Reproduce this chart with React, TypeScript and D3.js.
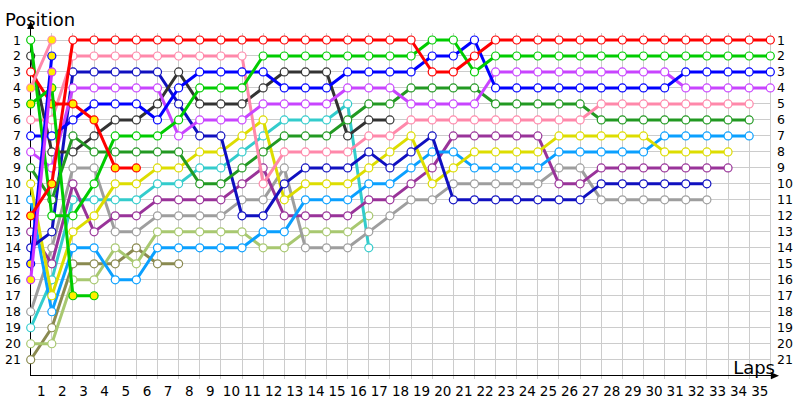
import React from 'react';
import * as d3 from 'd3';

// ---- data: position of each driver per lap (index = lap, 0 = grid) ----
const LAPS = d3.range(0, 36);
const POSITIONS = d3.range(1, 22);
const LAP_LABELS = d3.range(1, 36);

const redA = [12, 10, 1, 1, 1, 1, 1, 1, 1, 1, 1, 1, 1, 1, 1, 1, 1, 1, 1, 3, 3, 2, 1, 1, 1, 1, 1, 1, 1, 1, 1, 1, 1, 1, 1, 1];
const greenC = [1, 12, 12, 10, 7, 7, 7, 6, 4, 4, 4, 2, 2, 2, 2, 2, 2, 2, 2, 1, 1, 3, 2, 2, 2, 2, 2, 2, 2, 2, 2, 2, 2, 2, 2, 2];
const blue = [7, 7, 6, 5, 5, 5, 6, 4, 3, 3, 3, 3, 4, 4, 4, 3, 3, 3, 3, 2, 2, 1, 4, 4, 4, 4, 4, 4, 4, 4, 4, 3, 3, 3, 3, 3];
const lightPurple = [8, 9, 4, 4, 4, 4, 4, 7, 6, 6, 6, 5, 5, 5, 5, 4, 4, 4, 5, 5, 5, 5, 3, 3, 3, 3, 3, 3, 3, 3, 3, 4, 4, 4, 4, 4];
const pink = [6, 6, 2, 2, 2, 2, 2, 2, 2, 2, 2, 10, 8, 8, 8, 8, 7, 7, 6, 6, 6, 6, 6, 6, 6, 6, 6, 5, 5, 5, 5, 5, 5, 5, 5];
const darkGreen = [9, 11, 7, 8, 8, 8, 8, 8, 10, 10, 9, 8, 7, 7, 7, 6, 5, 5, 4, 4, 4, 4, 5, 5, 5, 5, 5, 6, 6, 6, 6, 6, 6, 6, 6];
const darkGray = [2, 8, 8, 7, 6, 6, 5, 3, 5, 5, 5, 4, 3, 3, 3, 7, 6, 6];
const navy = [14, 13, 3, 3, 3, 3, 3, 5, 7, 7, 12, 12, 10, 9, 9, 9, 8, 9, 8, 7, 11, 11, 11, 11, 11, 11, 11, 10, 10, 10, 10, 10, 10];
const yellow = [10, 17, 13, 12, 10, 10, 9, 9, 8, 8, 7, 6, 11, 10, 10, 10, 9, 8, 7, 10, 9, 8, 8, 8, 8, 7, 7, 7, 7, 7, 8, 8, 8, 8];
const lightBlue = [11, 18, 14, 14, 16, 16, 14, 14, 14, 14, 14, 13, 13, 11, 11, 11, 10, 10, 9, 8, 8, 9, 9, 9, 9, 8, 8, 8, 8, 8, 7, 7, 7, 7, 7];
const darkPurple = [13, 15, 10, 13, 12, 12, 11, 11, 11, 11, 10, 9, 12, 12, 12, 12, 11, 11, 10, 9, 7, 7, 7, 7, 7, 10, 10, 9, 9, 9, 9, 9, 9, 9];
const gray = [18, 14, 9, 9, 13, 13, 12, 12, 12, 12, 11, 11, 9, 14, 14, 14, 13, 12, 11, 11, 10, 10, 10, 10, 10, 9, 9, 11, 11, 11, 11, 11, 11];
const cyan = [19, 16, 11, 11, 11, 11, 10, 10, 9, 9, 8, 7, 6, 6, 6, 5, 14];
const lightGreen = [20, 20, 16, 16, 14, 15, 13, 13, 13, 13, 13, 14, 14, 13, 13, 13, 12];
const olive = [21, 19, 15, 15, 15, 14, 15, 15];
const redB = [3, 5, 5, 6, 9, 9];
const greenB = [5, 4, 17, 17];
const pinkY = [4, 1];
const blueY = [15, 2];
const magentaY = [16, 3];

// laps drawn with a yellow-filled marker
const redAYellow = [0, 1];
const redBYellow = [1, 2, 3, 4, 5];
const greenBYellow = [0, 1, 2, 3];
const pinkYYellow = [0, 1];
const blueYYellow = [0, 1];
const magentaYYellow = [0, 1];

const DRIVERS = [
  { key: 'olive', pos: olive, yellow: [] as number[] },
  { key: 'lightGreen', pos: lightGreen, yellow: [] as number[] },
  { key: 'cyan', pos: cyan, yellow: [] as number[] },
  { key: 'gray', pos: gray, yellow: [] as number[] },
  { key: 'darkPurple', pos: darkPurple, yellow: [] as number[] },
  { key: 'lightBlue', pos: lightBlue, yellow: [] as number[] },
  { key: 'yellow', pos: yellow, yellow: [] as number[] },
  { key: 'navy', pos: navy, yellow: [] as number[] },
  { key: 'darkGray', pos: darkGray, yellow: [] as number[] },
  { key: 'darkGreen', pos: darkGreen, yellow: [] as number[] },
  { key: 'pink', pos: pink, yellow: [] as number[] },
  { key: 'lightPurple', pos: lightPurple, yellow: [] as number[] },
  { key: 'blue', pos: blue, yellow: [] as number[] },
  { key: 'greenC', pos: greenC, yellow: [] as number[] },
  { key: 'redB', pos: redB, yellow: redBYellow },
  { key: 'greenB', pos: greenB, yellow: greenBYellow },
  { key: 'blueY', pos: blueY, yellow: blueYYellow },
  { key: 'magentaY', pos: magentaY, yellow: magentaYYellow },
  { key: 'pinkY', pos: pinkY, yellow: pinkYYellow },
  { key: 'redA', pos: redA, yellow: redAYellow },
];

const COLORS: Record<string, string> = {
  olive: '#8a8a50',
  lightGreen: '#a8c870',
  cyan: '#33cccc',
  gray: '#9e9e9e',
  darkPurple: '#993399',
  lightBlue: '#0aa0ff',
  yellow: '#dddd00',
  navy: '#1010c0',
  darkGray: '#333333',
  darkGreen: '#229922',
  pink: '#ff88aa',
  lightPurple: '#c844ff',
  blue: '#0000ff',
  greenC: '#00cc00',
  redB: '#ff0000',
  greenB: '#00cc00',
  blueY: '#0000ff',
  magentaY: '#cc33ff',
  pinkY: '#ff88aa',
  redA: '#ff0000',
};

export default function App() {
  const x = d3.scaleLinear().domain([0, 35]).range([30.7, 770.3]);
  const y = d3.scaleLinear().domain([1, 22]).range([40, 375.7]);
  const line = d3
    .line<[number, number]>()
    .x((d) => x(d[0]))
    .y((d) => y(d[1]));

  const x0 = x(0);
  const xEnd = x(35);
  const yAxis = y(22);

  return (
    <svg
      width={800}
      height={400}
      style={{ position: 'absolute', left: 0, top: 0, background: '#fff' }}
      fontFamily="DejaVu Sans, sans-serif"
    >
      {/* grid */}
      <g stroke="#cccccc" strokeWidth={1} shapeRendering="crispEdges">
        {LAPS.filter((l) => l > 0).map((l) => (
          <line key={'v' + l} x1={x(l)} x2={x(l)} y1={33} y2={yAxis + 3} />
        ))}
        {POSITIONS.map((p) => (
          <line key={'h' + p} x1={x0} x2={xEnd} y1={y(p)} y2={y(p)} />
        ))}
      </g>

      {/* axes */}
      <g stroke="#000" strokeWidth={1} shapeRendering="crispEdges">
        <line x1={x0} x2={x0} y1={24} y2={yAxis} />
        <line x1={x0} x2={774} y1={yAxis} y2={yAxis} />
      </g>
      <path d={`M${x0},21 L${x0 - 3.5},29 L${x0 + 3.5},29 Z`} fill="#000" />
      <path d={`M779,${yAxis} L771,${yAxis - 3.5} L771,${yAxis + 3.5} Z`} fill="#000" />

      {/* axis titles */}
      <text x={5} y={26} fontSize={18} fill="#000">
        Position
      </text>
      <text x={775} y={374} fontSize={18} fill="#000" textAnchor="end">
        Laps
      </text>

      {/* tick labels */}
      <g fontSize={12.5} fill="#000">
        {POSITIONS.map((p) => (
          <text key={'l' + p} x={21} y={y(p)} textAnchor="end" dominantBaseline="central">
            {p}
          </text>
        ))}
        {POSITIONS.map((p) => (
          <text key={'r' + p} x={777} y={y(p)} textAnchor="start" dominantBaseline="central">
            {p}
          </text>
        ))}
      </g>
      <g fontSize={13.5} fill="#000">
        {LAP_LABELS.map((l) => (
          <text key={'x' + l} x={x(l - 0.5)} y={396} textAnchor="middle">
            {l}
          </text>
        ))}
      </g>

      {/* driver lines */}
      {DRIVERS.map((d) => {
        const pts: [number, number][] = d.pos.map((p, i) => [i, p]);
        const color = COLORS[d.key];
        return (
          <g key={d.key}>
            <path
              d={line(pts) || ''}
              fill="none"
              stroke={color}
              strokeWidth={3}
              strokeLinejoin="round"
              strokeLinecap="round"
            />
            {pts.map(([lap, p]) => (
              <circle
                key={lap}
                cx={x(lap)}
                cy={y(p)}
                r={4}
                fill={d.yellow.includes(lap) ? '#ffee00' : '#ffffff'}
                stroke={color}
                strokeWidth={1.2}
              />
            ))}
          </g>
        );
      })}
    </svg>
  );
}
